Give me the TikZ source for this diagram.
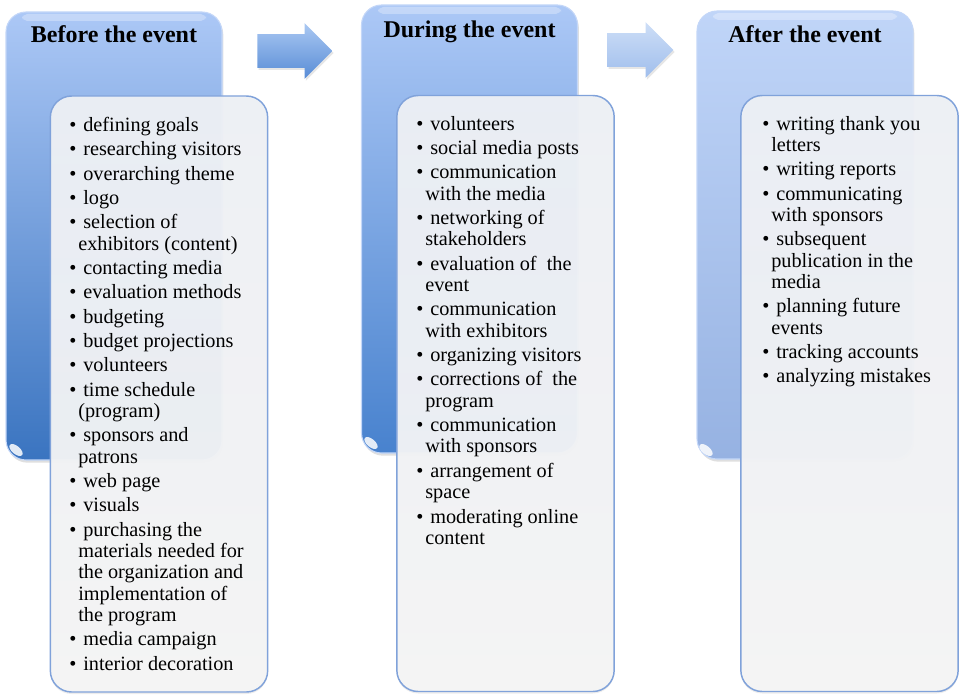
\documentclass[tikz,border=0pt]{standalone}
\usepackage{fontspec}
\setmainfont{Liberation Serif}
\usetikzlibrary{shapes.arrows,shadows}
\definecolor{hdtopA}{RGB}{172,200,246}
\definecolor{hdbotA}{RGB}{58,116,192}
\definecolor{hdbotB}{RGB}{72,130,206}
\definecolor{hdtopC}{RGB}{192,213,248}
\definecolor{hdbotC}{RGB}{150,178,226}
\definecolor{hdedge}{RGB}{196,215,248}
\definecolor{arrtop}{RGB}{170,200,242}
\definecolor{arrbot}{RGB}{88,140,214}
\definecolor{arrtopB}{RGB}{205,222,247}
\definecolor{arrbotB}{RGB}{160,190,236}
\definecolor{listtop}{RGB}{237,240,245}
\definecolor{listbot}{RGB}{245,245,245}
\definecolor{listedge}{RGB}{128,162,218}
\tikzset{
  headbox/.style={draw=hdedge, line width=.8pt, rounded corners=15pt, minimum width=162pt, minimum height=336pt,
    drop shadow={opacity=.25, shadow xshift=1pt, shadow yshift=-2pt}},
  listbox/.style={draw=listedge, line width=1.1pt, rounded corners=16pt, top color=listtop,
    bottom color=listbot, fill opacity=.96, minimum width=163pt, minimum height=447pt,
    drop shadow={opacity=.15, shadow xshift=0pt, shadow yshift=-1.5pt}},
  headtext/.style={font=\fontsize{18pt}{20pt}\selectfont\bfseries, inner sep=0pt, anchor=base},
  listtext/.style={font=\fontsize{15.2pt}{16pt}\selectfont, align=left, inner sep=0pt, anchor=north west},
  blockarrow/.style={single arrow, single arrow head extend=8.25pt, inner xsep=0pt, inner ysep=12.375pt,
    anchor=tail, drop shadow={opacity=.2, shadow xshift=1pt, shadow yshift=-1.5pt}},
  gloss/.style={white, opacity=.85},
  band/.style={white, opacity=.3, rounded corners=4pt}
}
\newcommand{\bul}{\makebox[6.75pt][l]{\textbullet}\ }
\newcommand{\cnt}{\hspace*{6.75pt}}
\begin{document}
\begin{tikzpicture}[x=0.75pt,y=-0.75pt]
    \useasboundingbox (0,0) rectangle (959,695);
    \node[headbox, top color=hdtopA, bottom color=hdbotA] (before) at (114,236) {};
    \node[headbox, top color=hdtopA, bottom color=hdbotB] (during) at (469.5,229) {};
    \node[headbox, top color=hdtopC, bottom color=hdbotC] (after) at (805,235) {};
    \fill[band] (22,14) rectangle (206,21);
    \fill[band] (378,7) rectangle (561,14);
    \fill[band] (713,13) rectangle (897,20);
    \fill[gloss, rotate around={-40:(16,450)}] (16,450) ellipse (8 and 4);
    \fill[gloss, rotate around={-40:(371,443)}] (371,443) ellipse (8 and 4);
    \fill[gloss, rotate around={-40:(706,450)}] (706,450) ellipse (8 and 4);
    \node[headtext] (beforetitle) at (114,43) {Before the event};
    \node[headtext] (duringtitle) at (469.5,38) {During the event};
    \node[headtext] (aftertitle) at (805,43) {After the event};
    \node[blockarrow, top color=arrtop, bottom color=arrbot, minimum height=56.25pt] (arrowone) at (257,51) {};
    \node[blockarrow, top color=arrtopB, bottom color=arrbotB, minimum height=49.5pt] (arrowtwo) at (607,50) {};
    \node[listbox] (beforelist) at (159,394) {};
    \node[listbox] (duringlist) at (505.5,393.5) {};
    \node[listbox] (afterlist) at (849.5,393.5) {};
    \node[listtext] (beforeitems) at (69,117) {\bul defining goals\\[2.25pt]
      \bul researching visitors\\[2.25pt]
      \bul overarching theme\\[2.25pt]
      \bul logo\\[2.25pt]
      \bul selection of\\
      \cnt exhibitors (content)\\[2.25pt]
      \bul contacting media\\[2.25pt]
      \bul evaluation methods\\[2.25pt]
      \bul budgeting\\[2.25pt]
      \bul budget projections\\[2.25pt]
      \bul volunteers\\[2.25pt]
      \bul time schedule\\
      \cnt (program)\\[2.25pt]
      \bul sponsors and\\
      \cnt patrons\\[2.25pt]
      \bul web page\\[2.25pt]
      \bul visuals\\[2.25pt]
      \bul purchasing the\\
      \cnt materials needed for\\
      \cnt the organization and\\
      \cnt implementation of\\
      \cnt the program\\[2.25pt]
      \bul media campaign\\[2.25pt]
      \bul interior decoration};
    \node[listtext] (duringitems) at (416,116) {\bul volunteers\\[2.25pt]
      \bul social media posts\\[2.25pt]
      \bul communication\\
      \cnt with the media\\[2.25pt]
      \bul networking of\\
      \cnt stakeholders\\[2.25pt]
      \bul evaluation of~ the\\
      \cnt event\\[2.25pt]
      \bul communication\\
      \cnt with exhibitors\\[2.25pt]
      \bul organizing visitors\\[2.25pt]
      \bul corrections of~ the\\
      \cnt program\\[2.25pt]
      \bul communication\\
      \cnt with sponsors\\[2.25pt]
      \bul arrangement of\\
      \cnt space\\[2.25pt]
      \bul moderating online\\
      \cnt content};
    \node[listtext] (afteritems) at (762,116) {\bul writing thank you\\
      \cnt letters\\[2.25pt]
      \bul writing reports\\[2.25pt]
      \bul communicating\\
      \cnt with sponsors\\[2.25pt]
      \bul subsequent\\
      \cnt publication in the\\
      \cnt media\\[2.25pt]
      \bul planning future\\
      \cnt events\\[2.25pt]
      \bul tracking accounts\\[2.25pt]
      \bul analyzing mistakes};
    \end{tikzpicture}
\end{document}
